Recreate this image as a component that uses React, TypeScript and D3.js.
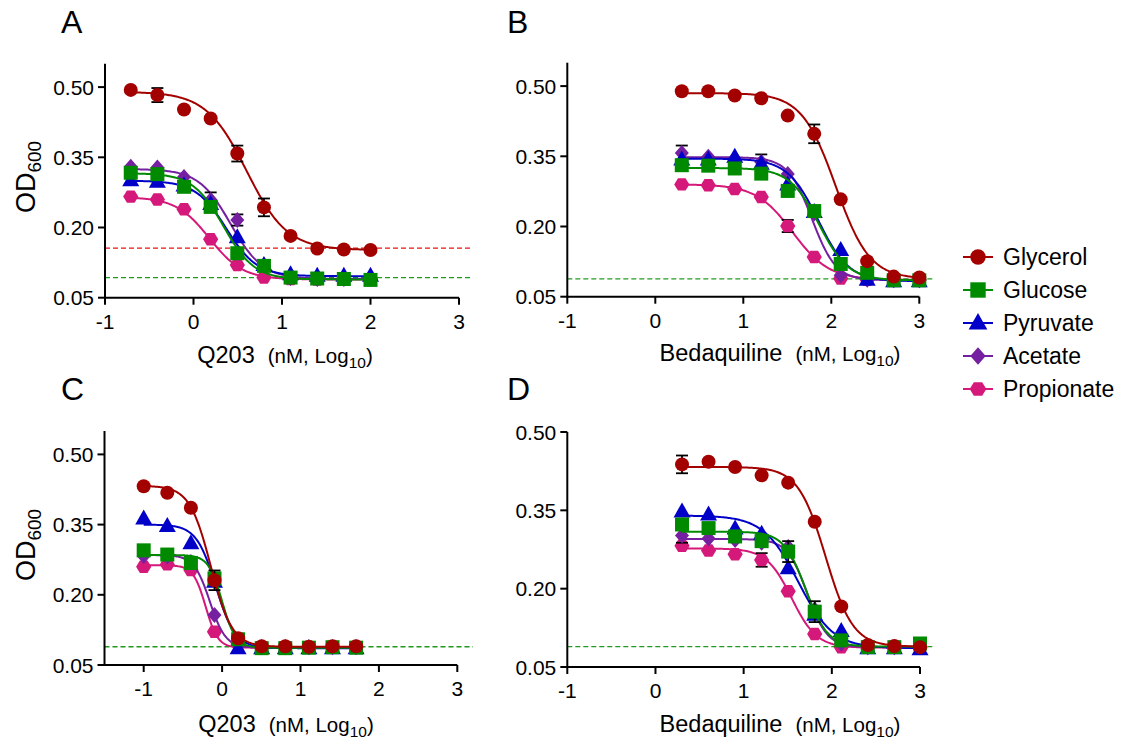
import React from 'react';
import * as d3 from 'd3';

// ---------- data ----------
const SERIES = ['Glycerol', 'Glucose', 'Pyruvate', 'Acetate', 'Propionate'];
const COLORS = ['#a30000', '#008a00', '#0000c8', '#7420a0', '#d5197a'];
const MARKERS = ['circle', 'square', 'triangle', 'diamond', 'hexagon'];

const Y_TICKS = [0.05, 0.2, 0.35, 0.5];
const X_TICKS = [-1, 0, 1, 2, 3];

// log10 concentrations (nM)
const xA = [-0.709, -0.408, -0.107, 0.194, 0.495, 0.796, 1.097, 1.398, 1.699, 2.0];
const xB = [0.301, 0.602, 0.903, 1.204, 1.505, 1.806, 2.107, 2.408, 2.709, 3.0];
const xC = [-1.0, -0.699, -0.398, -0.097, 0.204, 0.505, 0.806, 1.107, 1.408, 1.709];
const xD = [0.301, 0.602, 0.903, 1.204, 1.505, 1.806, 2.107, 2.408, 2.709, 3.0];

// Panel A (Q203)
const aGlycerol = [0.494, 0.483, 0.452, 0.433, 0.358, 0.243, 0.182, 0.155, 0.153, 0.152];
const aGlucose = [0.317, 0.314, 0.287, 0.244, 0.145, 0.118, 0.093, 0.091, 0.09, 0.088];
const aPyruvate = [0.301, 0.298, 0.29, 0.25, 0.179, 0.12, 0.1, 0.097, 0.097, 0.097];
const aAcetate = [0.33, 0.328, 0.308, 0.259, 0.216, 0.12, 0.092, 0.09, 0.09, 0.09];
const aPropionate = [0.266, 0.26, 0.239, 0.175, 0.12, 0.093, 0.09, 0.089, 0.089, 0.089];
// fits: [top, bottom, logIC50, hill]
const aFits = [
  [0.49, 0.152, 0.6, 1.9],
  [0.316, 0.089, 0.34, 2.5],
  [0.3, 0.096, 0.37, 2.5],
  [0.325, 0.09, 0.42, 2.4],
  [0.265, 0.089, 0.18, 2.3],
];
// error bars: [series, point, sem]
const aErr = [[0, 1, 0.015], [0, 4, 0.017], [0, 5, 0.019], [3, 4, 0.012], [3, 3, 0.016]];

// Panel B (Bedaquiline)
const bGlycerol = [0.489, 0.489, 0.48, 0.474, 0.437, 0.398, 0.258, 0.126, 0.093, 0.091];
const bGlucose = [0.331, 0.33, 0.324, 0.313, 0.276, 0.233, 0.12, 0.101, 0.085, 0.085];
const bPyruvate = [0.343, 0.343, 0.349, 0.334, 0.29, 0.231, 0.15, 0.086, 0.083, 0.083];
const bAcetate = [0.357, 0.349, 0.345, 0.338, 0.312, 0.228, 0.096, 0.086, 0.085, 0.085];
const bPropionate = [0.29, 0.288, 0.28, 0.263, 0.201, 0.135, 0.089, 0.086, 0.086, 0.086];
const bFits = [
  [0.485, 0.088, 2.05, 2.25],
  [0.325, 0.085, 1.86, 2.6],
  [0.345, 0.083, 1.85, 2.5],
  [0.348, 0.085, 1.78, 3.2],
  [0.29, 0.086, 1.56, 2.1],
];
const bErr = [[0, 5, 0.02], [4, 4, 0.013], [3, 0, 0.016], [3, 3, 0.016]];

// Panel C (Q203)
const cGlycerol = [0.432, 0.418, 0.386, 0.231, 0.107, 0.09, 0.09, 0.089, 0.09, 0.09];
const cGlucose = [0.295, 0.286, 0.268, 0.235, 0.105, 0.086, 0.086, 0.087, 0.088, 0.087];
const cPyruvate = [0.363, 0.347, 0.31, 0.228, 0.086, 0.086, 0.086, 0.086, 0.086, 0.086];
const cAcetate = [0.283, 0.282, 0.27, 0.157, 0.095, 0.088, 0.088, 0.088, 0.088, 0.088];
const cPropionate = [0.26, 0.265, 0.253, 0.121, 0.095, 0.088, 0.088, 0.088, 0.088, 0.088];
const cFits = [
  [0.433, 0.089, -0.144, 3.2],
  [0.285, 0.087, 0.0, 5],
  [0.35, 0.086, -0.08, 3.5],
  [0.285, 0.087, -0.157, 4.3],
  [0.263, 0.087, -0.21, 5.5],
];
const cErr = [[0, 3, 0.021]];

// Panel D (Bedaquiline)
const dGlycerol = [0.438, 0.443, 0.433, 0.417, 0.403, 0.328, 0.166, 0.092, 0.09, 0.088];
const dGlucose = [0.323, 0.316, 0.3, 0.291, 0.271, 0.156, 0.101, 0.088, 0.088, 0.095];
const dPyruvate = [0.348, 0.342, 0.315, 0.305, 0.239, 0.15, 0.119, 0.086, 0.086, 0.084];
const dAcetate = [0.302, 0.296, 0.293, 0.288, 0.28, 0.16, 0.095, 0.088, 0.088, 0.088];
const dPropionate = [0.282, 0.273, 0.266, 0.255, 0.195, 0.113, 0.088, 0.087, 0.087, 0.087];
const dFits = [
  [0.433, 0.089, 1.93, 2.8],
  [0.309, 0.089, 1.704, 3.5],
  [0.34, 0.086, 1.62, 2.2],
  [0.295, 0.088, 1.72, 3.8],
  [0.277, 0.087, 1.544, 3.05],
];
const dErr = [[0, 0, 0.017], [4, 3, 0.013], [1, 4, 0.02], [1, 5, 0.02], [3, 0, 0.014]];

// ---------- layout ----------
const FONT = '"Liberation Sans", Arial, Helvetica, sans-serif';

type Panel = {
  letter: string; lx: number; ly: number;
  xs: number[]; ys: number[][]; fits: number[][]; errs: number[][];
  xDomain: [number, number]; xRange: [number, number];
  yDomain: [number, number]; yRange: [number, number];
  refs: { v: number; c: string }[]; refEnd: number;
  drug: string; tX: number; tY: number;
  yTitle?: [number, number];
};

const PANELS: Panel[] = [
  {
    letter: 'A', lx: 61, ly: 33, xs: xA,
    ys: [aGlycerol, aGlucose, aPyruvate, aAcetate, aPropionate], fits: aFits, errs: aErr,
    xDomain: [-1, 3], xRange: [105, 459], yDomain: [0.05, 0.55], yRange: [297.7, 63.7],
    refs: [{ v: 0.156, c: '#e41414' }, { v: 0.093, c: '#1f9a1f' }], refEnd: 472,
    drug: 'Q203', tX: 285, tY: 363, yTitle: [35, 177],
  },
  {
    letter: 'B', lx: 507, ly: 33, xs: xB,
    ys: [bGlycerol, bGlucose, bPyruvate, bAcetate, bPropionate], fits: bFits, errs: bErr,
    xDomain: [-1, 3], xRange: [567.3, 919.3], yDomain: [0.05, 0.55], yRange: [296.7, 62.7],
    refs: [{ v: 0.088, c: '#1f9a1f' }], refEnd: 935,
    drug: 'Bedaquiline', tX: 780, tY: 361,
  },
  {
    letter: 'C', lx: 61, ly: 400, xs: xC,
    ys: [cGlycerol, cGlucose, cPyruvate, cAcetate, cPropionate], fits: cFits, errs: cErr,
    xDomain: [-1.5, 3], xRange: [104.5, 457.3], yDomain: [0.05, 0.55], yRange: [665, 431],
    refs: [{ v: 0.089, c: '#1f9a1f' }], refEnd: 473,
    drug: 'Q203', tX: 286, tY: 732, yTitle: [35, 545],
  },
  {
    letter: 'D', lx: 507, ly: 400, xs: xD,
    ys: [dGlycerol, dGlucose, dPyruvate, dAcetate, dPropionate], fits: dFits, errs: dErr,
    xDomain: [-1, 3], xRange: [567.3, 920], yDomain: [0.05, 0.5], yRange: [667, 432],
    refs: [{ v: 0.089, c: '#1f9a1f' }], refEnd: 935,
    drug: 'Bedaquiline', tX: 780, tY: 732,
  },
];

function Marker({ type, x, y, color, s = 1 }: { type: string; x: number; y: number; color: string; s?: number }) {
  if (type === 'circle') return <circle cx={x} cy={y} r={7 * s} fill={color} />;
  if (type === 'square') return <rect x={x - 7 * s} y={y - 7 * s} width={14 * s} height={14 * s} fill={color} />;
  let pts: [number, number][] = [];
  if (type === 'triangle') pts = [[0, -9], [8.5, 6], [-8.5, 6]];
  if (type === 'diamond') pts = [[0, -8], [7, 0], [0, 8], [-7, 0]];
  if (type === 'hexagon') pts = d3.range(6).map((i) => [7.6 * Math.cos((i * Math.PI) / 3), 7.2 * Math.sin((i * Math.PI) / 3)] as [number, number]);
  const d = 'M' + pts.map(([px, py]) => `${x + px * s},${y + py * s}`).join('L') + 'Z';
  return <path d={d} fill={color} />;
}

function PanelView({ p }: { p: Panel }) {
  const x = d3.scaleLinear().domain(p.xDomain).range(p.xRange);
  const y = d3.scaleLinear().domain(p.yDomain).range(p.yRange);
  const x0 = p.xRange[0];
  const y0 = p.yRange[0];
  const fmt = d3.format('.2f');
  const order = [4, 3, 2, 1, 0];
  const curvePath = (f: number[]) => {
    const [top, bot, c, h] = f;
    const lo = p.xs[0];
    const hi = p.xs[p.xs.length - 1];
    const pts = d3.range(0, 201).map((i) => lo + ((hi - lo) * i) / 200);
    return d3
      .line<number>()
      .x((v) => x(v))
      .y((v) => y(bot + (top - bot) / (1 + Math.pow(10, (v - c) * h))))(pts);
  };
  const yTicks = Y_TICKS.filter((t) => t <= p.yDomain[1] + 1e-9);
  return (
    <g>
      <text x={p.lx} y={p.ly} fontSize={32} fontFamily={FONT}>{p.letter}</text>
      {/* reference lines */}
      {p.refs.map((r, i) => (
        <line key={i} x1={x0} x2={p.refEnd} y1={y(r.v)} y2={y(r.v)} stroke={r.c} strokeWidth={1.4} strokeDasharray="5,3" />
      ))}
      {/* axes */}
      <line x1={x0} x2={x0} y1={y0 + 1} y2={p.yRange[1]} stroke="#000" strokeWidth={2} />
      <line x1={x0 - 1} x2={p.xRange[1]} y1={y0} y2={y0} stroke="#000" strokeWidth={2} />
      {yTicks.map((t) => (
        <g key={t}>
          <line x1={x0 - 7} x2={x0} y1={y(t)} y2={y(t)} stroke="#000" strokeWidth={2} />
          <text x={x0 - 11} y={y(t)} dy="0.36em" textAnchor="end" fontSize={21} fontFamily={FONT}>{fmt(t)}</text>
        </g>
      ))}
      {X_TICKS.map((t) => (
        <g key={t}>
          <line x1={x(t)} x2={x(t)} y1={y0} y2={y0 + 7} stroke="#000" strokeWidth={2} />
          <text x={x(t)} y={y0 + 31} textAnchor="middle" fontSize={21} fontFamily={FONT}>{t < 0 ? '-' + Math.abs(t) : String(t)}</text>
        </g>
      ))}
      {/* x title */}
      <text x={p.tX} y={p.tY} textAnchor="middle" fontFamily={FONT} fontSize={23.5}>
        {p.drug}
        <tspan fontSize={20.5} dx={13}>(nM, Log</tspan>
        <tspan fontSize={15.5} dy={5}>10</tspan>
        <tspan fontSize={20.5} dy={-5}>)</tspan>
      </text>
      {p.yTitle && (
        <text transform={`translate(${p.yTitle[0]},${p.yTitle[1]}) rotate(-90)`} textAnchor="middle" fontFamily={FONT} fontSize={27}>
          OD<tspan fontSize={19} dy={6}>600</tspan>
        </text>
      )}
      {/* series */}
      {order.map((s) => (
        <g key={s}>
          <path d={curvePath(p.fits[s]) || ''} fill="none" stroke={COLORS[s]} strokeWidth={2} />
          {p.errs.filter((e) => e[0] === s).map((e, k) => {
            const cx = x(p.xs[e[1]]);
            const v = p.ys[s][e[1]];
            return (
              <g key={k} stroke="#000" strokeWidth={1.8}>
                <line x1={cx} x2={cx} y1={y(v + e[2])} y2={y(v - e[2])} />
                <line x1={cx - 6} x2={cx + 6} y1={y(v + e[2])} y2={y(v + e[2])} />
                <line x1={cx - 6} x2={cx + 6} y1={y(v - e[2])} y2={y(v - e[2])} />
              </g>
            );
          })}
          {p.ys[s].map((v, i) => (
            <Marker key={i} type={MARKERS[s]} x={x(p.xs[i])} y={y(v)} color={COLORS[s]} />
          ))}
        </g>
      ))}
    </g>
  );
}

function Legend() {
  const lx = 963;
  const ty = 257;
  const step = 33;
  return (
    <g>
      {SERIES.map((name, i) => {
        const cy = ty + i * step;
        return (
          <g key={name}>
            <line x1={lx} x2={lx + 30} y1={cy} y2={cy} stroke={COLORS[i]} strokeWidth={2} />
            <Marker type={MARKERS[i]} x={lx + 15} y={cy} color={COLORS[i]} s={1.1} />
            <text x={lx + 40} y={cy} dy="0.36em" fontSize={23} fontFamily={FONT}>{name}</text>
          </g>
        );
      })}
    </g>
  );
}

export default function App() {
  return (
    <svg width={1125} height={746} style={{ position: 'absolute', left: 0, top: 0, background: '#fff' }}>
      <rect width={1125} height={746} fill="#fff" />
      {PANELS.map((p) => (
        <PanelView key={p.letter} p={p} />
      ))}
      <Legend />
    </svg>
  );
}
